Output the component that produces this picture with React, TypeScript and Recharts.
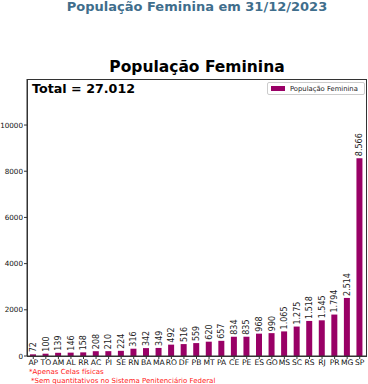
import { BarChart, Bar, XAxis, YAxis, LabelList } from 'recharts'

const states = ['AP', 'TO', 'AM', 'AL', 'RR', 'AC', 'PI', 'SE', 'RN', 'BA', 'MA', 'RO', 'DF', 'PB', 'MT', 'PA', 'CE', 'PE', 'ES', 'GO', 'MS', 'SC', 'RS', 'RJ', 'PR', 'MG', 'SP']
const female = [72, 100, 139, 146, 158, 208, 210, 224, 316, 342, 349, 492, 516, 559, 620, 657, 834, 835, 968, 990, 1065, 1275, 1518, 1545, 1794, 2514, 8566]
const yTicks = [0, 2000, 4000, 6000, 8000, 10000]

const data = states.map((uf, i) => ({ uf, value: female[i] }))
const total = female.reduce((a, b) => a + b, 0)

const fmt = (v: number) => v.toLocaleString('pt-BR')
const FONT = '"DejaVu Sans", sans-serif'
const PURPLE = '#990066'

const BarLabel = (props: any) => {
  const { x, y, width, value } = props
  const cx = x + width / 2 + 3
  const ty = y - 2
  return (
    <text x={cx} y={ty} transform={`rotate(-90, ${cx}, ${ty})`} fontSize={8} fill="#222" fontFamily={FONT} textAnchor="start">
      {fmt(value)}
    </text>
  )
}

export default function App() {
  return (
    <div style={{ position: 'absolute', left: 0, top: 0, width: 368, height: 384, background: '#fff', fontFamily: FONT }}>
      <div style={{ position: 'absolute', left: 0, width: 394, top: -1, textAlign: 'center', fontSize: 13, fontWeight: 'bold', color: '#3f6e8c' }}>
        População Feminina em 31/12/2023
      </div>
      <div style={{ position: 'absolute', left: 0, width: 394, top: 58, textAlign: 'center', fontSize: 15.5, fontWeight: 'bold', color: '#000' }}>
        População Feminina
      </div>
      <BarChart width={368} height={384} data={data} margin={{ top: 79, right: 2, bottom: 0, left: 0 }}>
        <XAxis dataKey="uf" interval={0} height={28} tickSize={3} tickMargin={1} stroke="#333" tick={{ fontSize: 7.6, fill: '#111', fontFamily: FONT }} />
        <YAxis width={27} domain={[0, 11993]} ticks={yTicks} tickSize={3} tickMargin={1} stroke="#333" tick={{ fontSize: 7.2, fill: '#111', fontFamily: FONT }} />
        <Bar dataKey="value" fill={PURPLE} barSize={6} isAnimationActive={false}>
          <LabelList dataKey="value" content={BarLabel} />
        </Bar>
      </BarChart>
      <div style={{ position: 'absolute', left: 27, top: 79, width: 338, height: 276, border: '1px solid #333', pointerEvents: 'none' }} />
      <div style={{ position: 'absolute', left: 32, top: 81, fontSize: 12.7, fontWeight: 'bold', color: '#000' }}>
        Total = {fmt(total)}
      </div>
      <div style={{ position: 'absolute', left: 267, top: 82, width: 96, height: 11, border: '1px solid #ccc', borderRadius: 2, display: 'flex', alignItems: 'center', fontSize: 6.8, color: '#222' }}>
        <span style={{ display: 'inline-block', width: 14, height: 5, background: PURPLE, marginLeft: 3, marginRight: 5 }} />
        População Feminina
      </div>
      <div style={{ position: 'absolute', left: 29, top: 368, fontSize: 7, color: '#ff2020' }}>*Apenas Celas físicas</div>
      <div style={{ position: 'absolute', left: 31, top: 377, fontSize: 7, color: '#ff2020' }}>*Sem quantitativos no Sistema Penitenciário Federal</div>
    </div>
  )
}
